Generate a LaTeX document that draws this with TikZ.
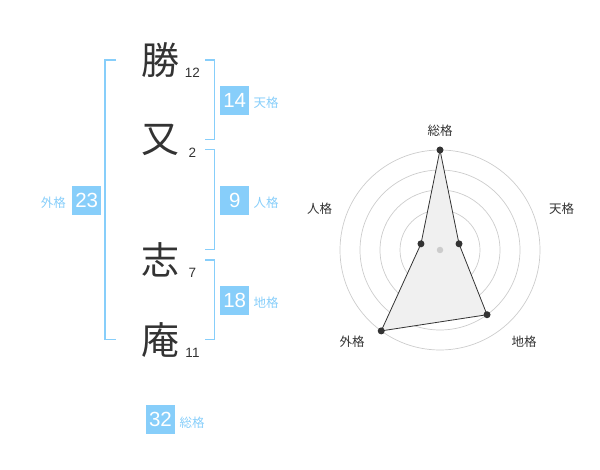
\documentclass[tikz,border=0pt]{standalone}
\usepackage{fontspec}
\setmainfont{Liberation Sans}
\newfontfamily\jp{Noto Sans CJK JP}
\definecolor{skyb}{HTML}{87CEFA}
\definecolor{ink}{HTML}{333333}
\definecolor{ring}{HTML}{CCCCCC}
\definecolor{area}{HTML}{F0F0F0}
\begin{document}
\begin{tikzpicture}[x=1pt,y=-1pt,
  kanji/.style={font=\jp\fontsize{38}{38}\selectfont, text=ink, inner sep=0pt},
  strokes/.style={font=\fontsize{13.5}{13.5}\selectfont, text=ink, inner sep=0pt},
  numbox/.style={fill=skyb, text=white, minimum width=29pt, minimum height=29pt, inner sep=0pt, font=\fontsize{20.5}{20.5}\selectfont},
  kaku/.style={font=\jp\fontsize{12.5}{12.5}\selectfont, text=skyb, inner sep=0pt},
  bracket/.style={draw=skyb, line width=1.5pt},
  rlabel/.style={font=\jp\fontsize{12.5}{12.5}\selectfont, text=ink, inner sep=0pt},
  ringline/.style={draw=ring, line width=0.7pt},
  dot/.style={circle, fill=ink, inner sep=0pt, minimum size=7pt}]
\useasboundingbox (0,0) rectangle (600,470);

% characters
\node[kanji] (c1) at (160,60) {勝};
\node[kanji] (c2) at (160,140) {又};
\node[kanji] (c3) at (160,260) {志};
\node[kanji] (c4) at (160,340) {庵};
\node[strokes] (s1) at (192.5,73) {12};
\node[strokes] (s2) at (192.5,153) {2};
\node[strokes] (s3) at (192.5,272.5) {7};
\node[strokes] (s4) at (192.5,352.5) {11};

% brackets
\coordinate (tA) at (205,60);  \coordinate (tB) at (214.5,60);
\coordinate (tC) at (214.5,139.5); \coordinate (tD) at (205,139.5);
\draw[bracket] (tA) -- (tB) -- (tC) -- (tD);
\coordinate (jA) at (205,149.5);  \coordinate (jB) at (214.5,149.5);
\coordinate (jC) at (214.5,249.5); \coordinate (jD) at (205,249.5);
\draw[bracket] (jA) -- (jB) -- (jC) -- (jD);
\coordinate (cA) at (205,260);  \coordinate (cB) at (214.5,260);
\coordinate (cC) at (214.5,339.5); \coordinate (cD) at (205,339.5);
\draw[bracket] (cA) -- (cB) -- (cC) -- (cD);
\coordinate (gA) at (116,60);  \coordinate (gB) at (105,60);
\coordinate (gC) at (105,339.5); \coordinate (gD) at (116,339.5);
\draw[bracket] (gA) -- (gB) -- (gC) -- (gD);

% boxes
\node[numbox] (b14) at (234.7,100.3) {14};
\node[kaku, anchor=west] (k14) at (253.5,103) {天格};
\node[numbox] (b9) at (234.7,200.3) {9};
\node[kaku, anchor=west] (k9) at (253.5,203) {人格};
\node[numbox] (b18) at (234.7,300.3) {18};
\node[kaku, anchor=west] (k18) at (253.5,303) {地格};
\node[numbox] (b23) at (86.7,200.3) {23};
\node[kaku, anchor=east] (k23) at (66,203) {外格};
\node[numbox] (b32) at (160.5,419.3) {32};
\node[kaku, anchor=west] (k32) at (179.5,422.5) {総格};

% radar
\coordinate (o) at (440,250);
\foreach \r in {20,40,60,80,100} \draw[ringline] (o) circle[radius=\r];
\coordinate (pS) at (440,150);
\coordinate (pT) at (459.02,243.82);
\coordinate (pC) at (487.02,314.72);
\coordinate (pG) at (381.22,330.90);
\coordinate (pJ) at (420.98,243.82);
\filldraw[fill=area, draw=ink, line width=0.8pt] (pS) -- (pT) -- (pC) -- (pG) -- (pJ) -- cycle;
\node[circle, fill=ring, inner sep=0pt, minimum size=6.5pt] (center) at (o) {};
\foreach \p in {pS,pT,pC,pG,pJ} \node[dot] at (\p) {};
\node[rlabel] (lS) at (440,130.5) {総格};
\node[rlabel] (lT) at (561.5,209) {天格};
\node[rlabel] (lC) at (524,342) {地格};
\node[rlabel] (lG) at (352,342) {外格};
\node[rlabel] (lJ) at (319.5,209) {人格};
\end{tikzpicture}
\end{document}
